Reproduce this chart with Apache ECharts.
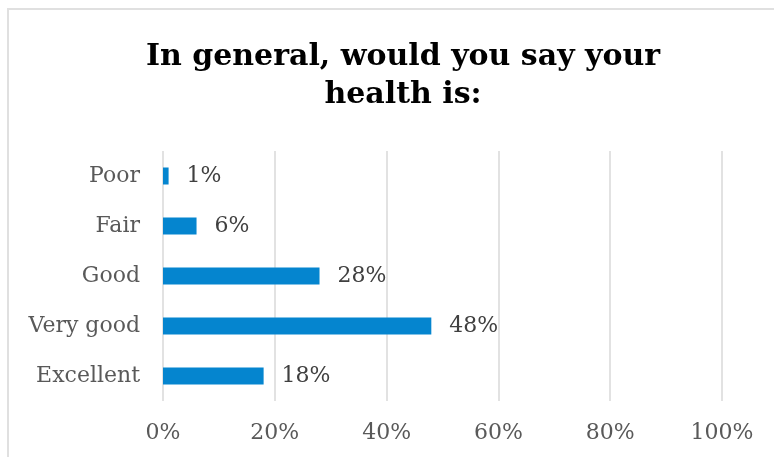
<!DOCTYPE html>
<html>
<head>
<meta charset="utf-8">
<script src="https://cdn.jsdelivr.net/npm/echarts@6/dist/echarts.min.js"></script>
<style>
  html, body { margin: 0; padding: 0; background: #fff; overflow: hidden; }
  #chart { width: 774px; height: 457px; }
</style>
</head>
<body>
<div id="chart"></div>
<script>
// Self-rated health responses, share of respondents (%)
const categories = ['Excellent', 'Very good', 'Good', 'Fair', 'Poor'];
const shares = [18, 48, 28, 6, 1];
const tickValues = [0, 20, 40, 60, 80, 100];

const chart = echarts.init(document.getElementById('chart'), null, { renderer: 'canvas' });

const serif = '"DejaVu Serif", "Liberation Serif", serif';

chart.setOption({
  animation: false,
  backgroundColor: '#ffffff',
  graphic: [
    // chart frame: only the top and left edges fall inside the view
    { type: 'line', shape: { x1: 7, y1: 9, x2: 774, y2: 9 },
      style: { stroke: '#e0e0e0', lineWidth: 2 }, silent: true },
    { type: 'line', shape: { x1: 8, y1: 8, x2: 8, y2: 457 },
      style: { stroke: '#e0e0e0', lineWidth: 2 }, silent: true },
    // keep the right margin clear
    { type: 'rect', shape: { x: 762, y: 11, width: 12, height: 446 },
      style: { fill: '#ffffff' }, z: 100, silent: true }
  ],
  title: {
    text: 'In general, would you say your\nhealth is:',
    left: 398,
    textAlign: 'center',
    top: 33,
    textStyle: {
      fontFamily: serif,
      fontWeight: 'bold',
      fontSize: 30,
      lineHeight: 38,
      color: '#000000'
    }
  },
  grid: { left: 163, right: 52, top: 151, bottom: 56, containLabel: false },
  xAxis: {
    type: 'value',
    min: 0,
    max: 100,
    interval: 20,
    axisLine: { show: false },
    axisTick: { show: false },
    splitLine: { lineStyle: { color: '#d9d9d9', width: 1.5 } },
    axisLabel: {
      margin: 21,
      fontFamily: serif,
      fontSize: 22,
      color: '#595959',
      formatter: v => tickValues.includes(v) ? v + '%' : ''
    }
  },
  yAxis: {
    type: 'category',
    data: categories,
    axisLine: { show: false },
    axisTick: { show: false },
    axisLabel: {
      margin: 23,
      fontFamily: serif,
      fontSize: 22,
      color: '#595959'
    }
  },
  series: [{
    type: 'bar',
    data: shares,
    barWidth: 17,
    itemStyle: { color: '#0585cf' },
    label: {
      show: true,
      position: 'right',
      distance: 18,
      fontFamily: serif,
      fontSize: 22,
      color: '#404040',
      formatter: p => p.value + '%'
    }
  }]
});
</script>
</body>
</html>
